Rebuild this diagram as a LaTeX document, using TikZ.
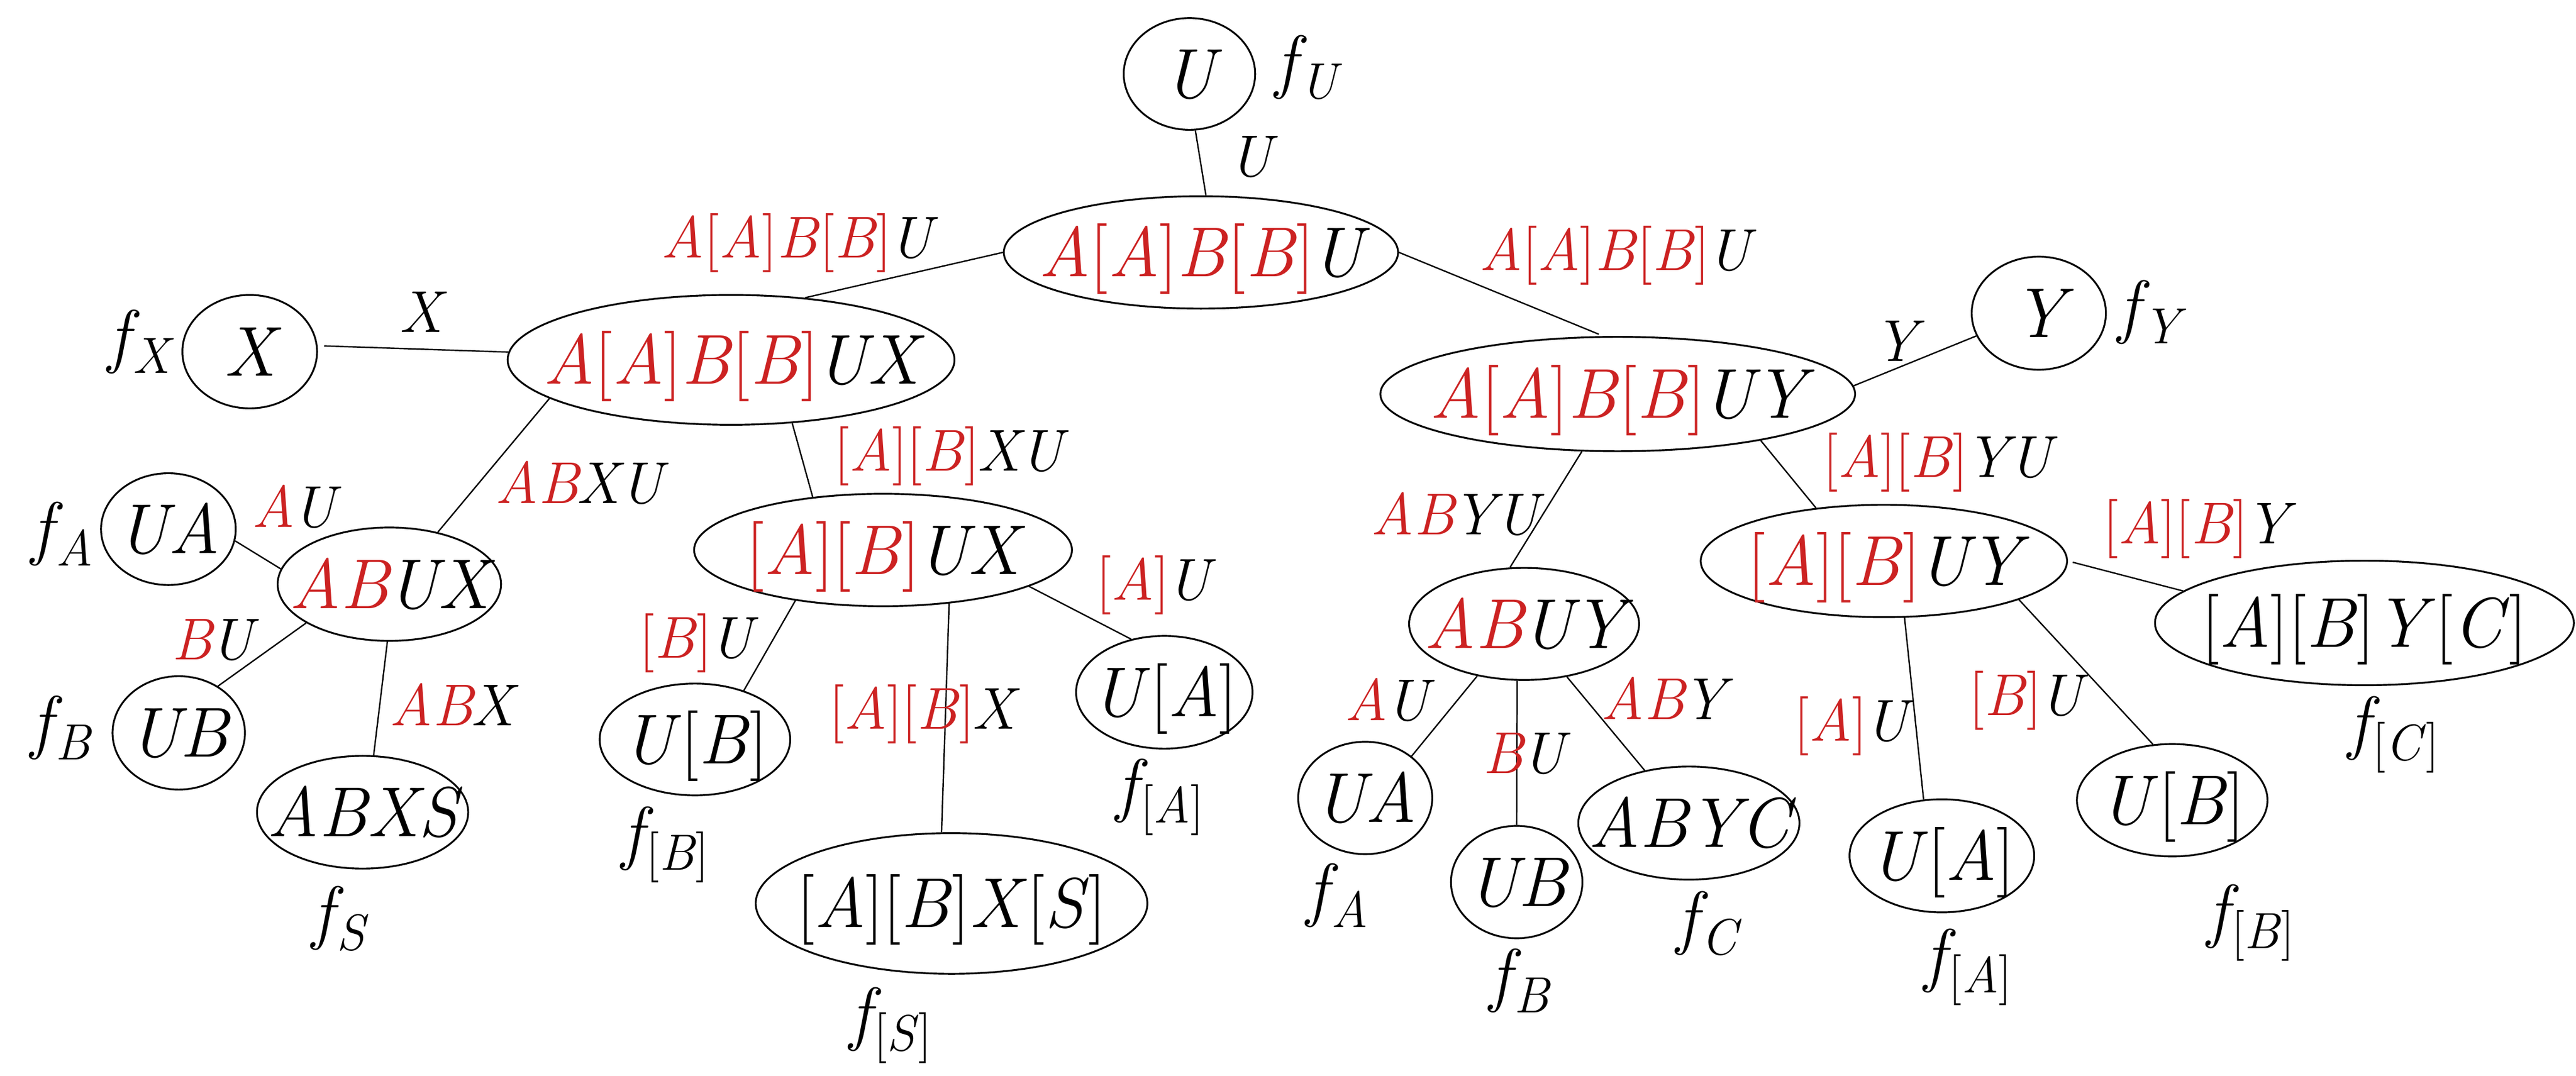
\documentclass[tikz,border=0pt]{standalone}
\usetikzlibrary{shapes.geometric}
\definecolor{myred}{RGB}{204,34,34}
\newcommand\R[1]{\textcolor{myred}{#1}\kern-0.04em}
\newcommand\lb{\textup{[}}
\newcommand\rb{\textup{]}}
\newcommand\nt[1]{\raisebox{-0.3415em}[0pt][0pt]{\makebox[0pt]{#1}}}
\newcommand\fsub[1]{f\kern2pt\raisebox{-8.5pt}{\fontsize{31}{36}\selectfont #1}}
\tikzset{
  ell/.style={draw, ellipse, inner sep=0pt, line width=1.1pt, font=\fontsize{43}{50}\selectfont\itshape},
  lbl/.style={inner sep=0pt, font=\fontsize{36}{42}\selectfont\itshape},
  flab/.style={inner sep=0pt, font=\fontsize{43}{50}\selectfont\itshape},
  edge/.style={line width=0.85pt}
}
\begin{document}
\begin{tikzpicture}[x=1pt,y=-1pt]
\useasboundingbox (0,0) rectangle (1568,654.5);
% ---------- nodes ----------
\node[ell, minimum width=80, minimum height=68] (U) at (724,45) {\nt{U}};
\node[ell, minimum width=240, minimum height=68.4] (root) at (731,153.6) {\nt{\R{A\lb A\rb B\lb B\rb}U}};
\node[ell, minimum width=272, minimum height=79] (AUX) at (445,219) {\nt{\R{A\lb A\rb B\lb B\rb}UX}};
\node[ell, minimum width=82, minimum height=69] (X) at (152,214) {\nt{X}};
\node[ell, minimum width=289, minimum height=69.6] (AUY) at (984.7,239.8) {\nt{\R{A\lb A\rb B\lb B\rb}UY}};
\node[ell, minimum width=81.7, minimum height=68.8] (Y) at (1241,190.6) {\nt{Y}};
\node[ell, minimum width=82, minimum height=68] (UAl) at (102.5,322) {\nt{UA}};
\node[ell, minimum width=136, minimum height=69] (ABUX) at (237,355.5) {\nt{\R{AB}UX}};
\node[ell, minimum width=80.6, minimum height=69] (UBl) at (108.8,446) {\nt{UB}};
\node[ell, minimum width=128.6, minimum height=68.6] (ABXS) at (220.7,494.3) {\nt{ABXS}};
\node[ell, minimum width=230, minimum height=68.4] (ABUX2) at (537.5,334.7) {\nt{\R{\lb A\rb\lb B\rb}UX}};
\node[ell, minimum width=116, minimum height=68] (UBbl) at (423,450) {\nt{U\lb B\rb}};
\node[ell, minimum width=238.4, minimum height=85.6] (ABXSb) at (579.2,549.8) {\nt{\lb A\rb\lb B\rb X\lb S\rb}};
\node[ell, minimum width=107.4, minimum height=68.6] (UAbl) at (708.7,421.3) {\nt{U\lb A\rb}};
\node[ell, minimum width=140, minimum height=68.2] (ABUY) at (927.7,379.7) {\nt{\R{AB}UY}};
\node[ell, minimum width=223, minimum height=68.4] (ABUY2) at (1146.7,341.4) {\nt{\R{\lb A\rb\lb B\rb}UY}};
\node[ell, minimum width=255, minimum height=75.8] (ABYCb) at (1439.2,379.1) {\nt{\lb A\rb\lb B\rb Y\lb C\rb}};
\node[ell, minimum width=81.6, minimum height=68.4] (UAr) at (831,485.6) {\nt{UA}};
\node[ell, minimum width=80, minimum height=68.4] (UBr) at (923.2,536.8) {\nt{UB}};
\node[ell, minimum width=134.6, minimum height=68.8] (ABYC) at (1028,500.9) {\nt{ABYC}};
\node[ell, minimum width=112.4, minimum height=68.8] (UAbr) at (1182,520.8) {\nt{U\lb A\rb}};
\node[ell, minimum width=116, minimum height=68.4] (UBbr) at (1322.2,487) {\nt{U\lb B\rb}};
% ---------- f labels ----------
\node[flab] (fU) at (795,41) {\fsub{U}};
\node[flab] (fX) at (84.5,208) {\fsub{X}};
\node[flab] (fAl) at (38,325) {\fsub{A}};
\node[flab] (fBl) at (37,443) {\fsub{B}};
\node[flab] (fS) at (206,559) {\fsub{S}};
\node[flab] (fBbl) at (405,514) {\fsub{\lb B\rb}};
\node[flab] (fSb) at (542,624) {\fsub{\lb S\rb}};
\node[flab] (fAbl) at (706,485) {\fsub{\lb A\rb}};
\node[flab] (fY) at (1308,190) {\fsub{Y}};
\node[flab] (fAr) at (814,545) {\fsub{A}};
\node[flab] (fBr) at (925,597) {\fsub{B}};
\node[flab] (fC) at (1039,562) {\fsub{C}};
\node[flab] (fAbr) at (1198,588.6) {\fsub{\lb A\rb}};
\node[flab] (fBbr) at (1370,561.5) {\fsub{\lb B\rb}};
\node[flab] (fCb) at (1457,447) {\fsub{\lb C\rb}};
% ---------- edges ----------
\draw[edge] (U.276) -- (root.85);
\draw[edge] (root.180) -- (AUX.40);
\draw[edge, shorten <=4pt] (X.5) -- (AUX.178);
\draw[edge, shorten >=3pt] (root.0) -- (AUY.104);
\draw[edge] (AUY.2) -- (Y.200);
\draw[edge] (UAl.350) -- (ABUX.172);
\draw[edge] (ABUX.205) -- (UBl.50);
\draw[edge] (ABUX.268) -- (ABXS.79);
\draw[edge] (AUX.192) -- (ABUX.47);
\draw[edge] (AUX.314) -- (ABUX2.143);
\draw[edge] (ABUX2.210) -- (UBbl.45);
\draw[edge] (ABUX2.321) -- (ABXSb.98);
\draw[edge] (ABUX2.346) -- (UAbl.122);
\draw[edge] (AUY.238) -- (ABUY.104);
\draw[edge] (AUY.342) -- (ABUY2.142);
\draw[edge, shorten <=3pt] (ABUY2.0) -- (ABYCb.170);
\draw[edge] (ABUY.228) -- (UAr.42);
\draw[edge] (ABUY.263) -- (UBr.90);
\draw[edge] (ABUY.309) -- (ABYC.130);
\draw[edge] (ABUY2.290) -- (UAbr.108);
\draw[edge] (ABUY2.344) -- (UBbr.109);
% ---------- edge labels ----------
\node[lbl] (l1) at (761,95.5) {U};
\node[lbl] (l2) at (485,148) {\R{A\lb A\rb B\lb B\rb}U};
\node[lbl] (l3) at (256,190) {X};
\node[lbl] (l4) at (983,155.5) {\R{A\lb A\rb B\lb B\rb}U};
\node[lbl] (l5) at (1153.7,207.7) {Y};
\node[lbl] (l6) at (178.8,308.4) {\R{A}U};
\node[lbl] (l7) at (129.3,389.6) {\R{B}U};
\node[lbl] (l8) at (352.5,293.8) {\R{AB}XU};
\node[lbl] (l9) at (275,428.8) {\R{AB}X};
\node[lbl] (l10) at (577.5,277.6) {\R{\lb A\rb\lb B\rb}XU};
\node[lbl] (l11) at (423.8,391.5) {\R{\lb B\rb}U};
\node[lbl] (l12) at (561.3,434.7) {\R{\lb A\rb\lb B\rb}X};
\node[lbl] (l13) at (702,356) {\R{\lb A\rb}U};
\node[lbl] (l14) at (885.5,313) {\R{AB}YU};
\node[lbl] (l15) at (1179.2,281.3) {\R{\lb A\rb\lb B\rb}YU};
\node[lbl] (l16) at (1336.7,321.9) {\R{\lb A\rb\lb B\rb}Y};
\node[lbl] (l17) at (844.2,425.9) {\R{A}U};
\node[lbl] (l18) at (927.5,458.6) {\R{B}U};
\node[lbl] (l19) at (1012.5,424.8) {\R{AB}Y};
\node[lbl] (l20) at (1126.7,441.8) {\R{\lb A\rb}U};
\node[lbl] (l21) at (1233,426.3) {\R{\lb B\rb}U};
\end{tikzpicture}
\end{document}
